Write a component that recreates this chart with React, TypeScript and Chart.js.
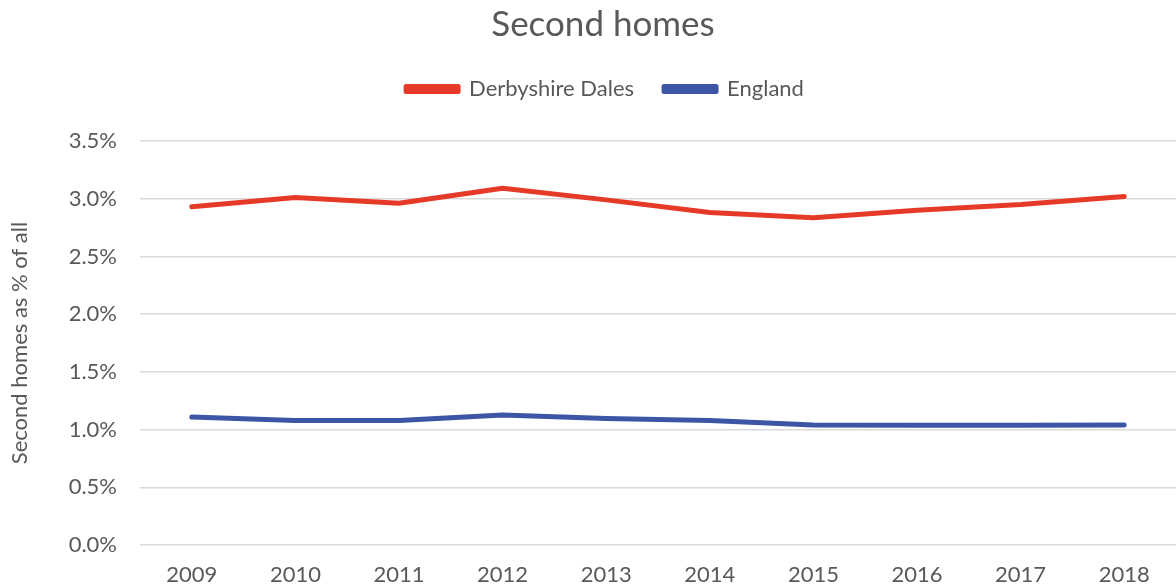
import React, { useEffect, useRef } from "react";
import { Chart, registerables } from "chart.js";

Chart.register(...registerables);

const years = ["2009", "2010", "2011", "2012", "2013", "2014", "2015", "2016", "2017", "2018"];
const derbyshireDales = [2.93, 3.01, 2.96, 3.09, 2.99, 2.88, 2.835, 2.9, 2.95, 3.02];
const england = [1.108, 1.078, 1.078, 1.127, 1.095, 1.078, 1.04, 1.037, 1.038, 1.04];

const TEXT = "#595959";
const FONT = "Lato, 'Open Sans', sans-serif";

export default function App() {
  const ref = useRef<HTMLCanvasElement | null>(null);

  useEffect(() => {
    if (!ref.current) return;
    const tweaks = {
      id: "tweaks",
      beforeInit(chart: any) {
        const orig = chart.legend.fit;
        chart.legend.fit = function () {
          orig.call(this);
          this.height += 31;
        };
      },
      afterLayout(chart: any) {
        chart.titleBlock.left += 30;
        chart.legend.left += 34;
      },
    };
    const chart = new Chart(ref.current, {
      type: "line",
      data: {
        labels: years,
        datasets: [
          {
            label: "Derbyshire Dales",
            data: derbyshireDales,
            borderColor: "#E63A28",
            backgroundColor: "#E63A28",
            borderWidth: 5,
            pointRadius: 0,
            borderCapStyle: "round",
            borderJoinStyle: "round",
            tension: 0,
          },
          {
            label: "England",
            data: england,
            borderColor: "#3C56A5",
            backgroundColor: "#3C56A5",
            borderWidth: 5,
            pointRadius: 0,
            borderCapStyle: "round",
            borderJoinStyle: "round",
            tension: 0,
          },
        ],
      },
      options: {
        animation: false,
        responsive: false,
        maintainAspectRatio: false,
        devicePixelRatio: 1,
        layout: { padding: { top: 0, right: 0, bottom: 0, left: 0 } },
        plugins: {
          title: {
            display: true,
            text: "Second homes",
            color: TEXT,
            font: { family: FONT, size: 35, weight: "normal" },
            padding: { top: 4, bottom: 2 },
          },
          legend: {
            display: true,
            position: "top",
            labels: {
              color: TEXT,
              font: { family: FONT, size: 22 },
              boxWidth: 52,
              boxHeight: 5,
              padding: 30,
            },
          },
          tooltip: { enabled: false },
        },
        scales: {
          x: {
            offset: true,
            afterFit: (s: any) => {
              s.height = 43;
            },
            grid: { display: false, drawTicks: false },
            border: { display: false },
            ticks: {
              color: TEXT,
              font: { family: FONT, size: 22 },
              padding: 17,
              maxRotation: 0,
            },
          },
          y: {
            min: 0,
            max: 3.5,
            afterFit: (s: any) => {
              s.width = 140;
            },
            grid: { color: "#D9D9D9", lineWidth: 1.5, drawTicks: false },
            border: { display: false },
            ticks: {
              stepSize: 0.5,
              color: TEXT,
              font: { family: FONT, size: 22 },
              padding: 23,
              callback: (v: any) => Number(v).toFixed(1) + "%",
            },
            title: {
              display: true,
              text: "Second homes as % of all",
              color: TEXT,
              font: { family: FONT, size: 22 },
              padding: { top: 7, bottom: 8 },
            },
          },
        },
      },
      plugins: [tweaks],
    });
    return () => chart.destroy();
  }, []);

  return (
    <div style={{ position: "fixed", left: 0, top: 0, width: 1176, height: 588, background: "#fff" }}>
      <canvas ref={ref} width={1176} height={588} style={{ display: "block", width: 1176, height: 588 }} />
    </div>
  );
}
